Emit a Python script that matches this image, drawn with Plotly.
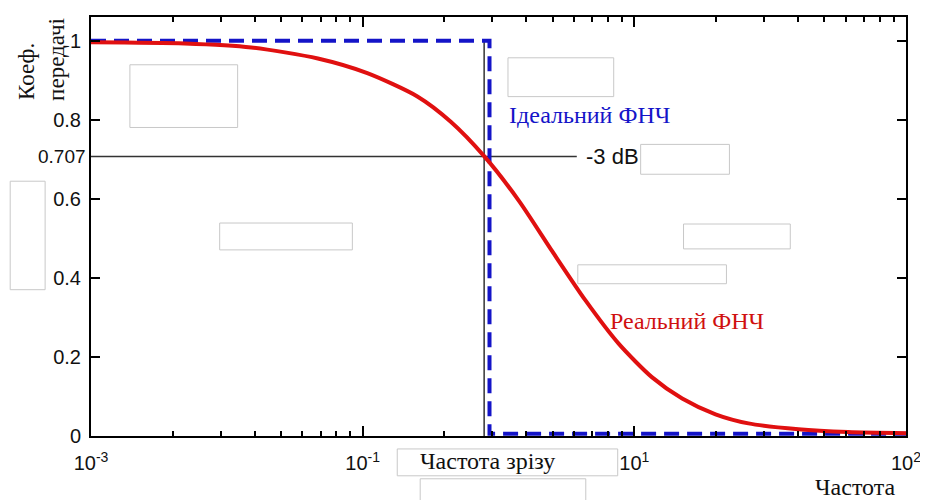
import plotly.graph_objects as go

# ---- data ----
real_freq = [0.1, 0.221, 0.389, 0.684, 1.04, 1.59, 2.11, 2.80, 3.76, 4.99,
             6.61, 8.77, 11.6, 15.0, 19.9, 26.3, 40.2, 61.2, 100.0]
real_gain = [0.996, 0.993, 0.983, 0.955, 0.918, 0.859, 0.795, 0.708, 0.595, 0.467,
             0.343, 0.233, 0.149, 0.095, 0.055, 0.032, 0.017, 0.010, 0.007]

ideal_freq = [0.1, 2.93, 2.93, 100.0]
ideal_gain = [1.0, 1.0, 0.006, 0.006]

cutoff_freq = 2.80
level_3db = 0.707
level_line_end = 6.14

x_tickvals = [0.1, 1, 10, 100]
x_ticktext = ["10<sup>-3</sup>", "10<sup>-1</sup>", "10<sup>1</sup>", "10<sup>2</sup>"]
x_minor = [k * 10 ** n for n in (-1, 0, 1) for k in range(2, 10)]
y_tickvals = [0, 0.2, 0.4, 0.6, 0.8, 1]
y_ticktext = ["0", "0.2", "0.4", "0.6", "0.8", "1"]

# page offset (body margin) compensation
OFF = 8
PL, PR, PT, PB = 91, 908, 15, 436          # plot area in page pixels
W, H = 928 - OFF, 500 - OFF
L, T = PL - OFF, PT - OFF
R = W - (PR - OFF)
B = H - (PB - OFF)


def px(xp):
    return (xp - PL) / (PR - PL)


def py(yp):
    return (PB - yp) / (PB - PT)


fig = go.Figure()

# reference lines
fig.add_trace(go.Scatter(x=[0.1, level_line_end], y=[level_3db, level_3db], mode="lines",
                         line=dict(color="#333333", width=1.5), hoverinfo="skip", showlegend=False))
fig.add_trace(go.Scatter(x=[cutoff_freq, cutoff_freq], y=[0, 1], mode="lines",
                         line=dict(color="#333333", width=1.5), hoverinfo="skip", showlegend=False))

fig.add_trace(go.Scatter(x=ideal_freq, y=ideal_gain, mode="lines",
                         line=dict(color="#1414c8", width=4, dash="15px,8px"),
                         showlegend=False))
fig.add_trace(go.Scatter(x=real_freq, y=real_gain, mode="lines",
                         line=dict(color="#e01010", width=4, shape="spline", smoothing=0.7),
                         showlegend=False))

serif = "Liberation Serif, Times New Roman, serif"
sans = "Liberation Sans, Arial, sans-serif"

annotations = [
    dict(text="-3 dB", x=px(585), y=level_3db, xref="paper", yref="y", xanchor="left",
         yanchor="middle", showarrow=False, font=dict(family=sans, size=22, color="#111")),
    dict(text="0.707", x=px(88), y=level_3db, xref="paper", yref="y", xanchor="right",
         yanchor="middle", showarrow=False, font=dict(family=sans, size=19, color="#111")),
    dict(text="Ідеальний ФНЧ", x=px(591), y=py(113), xref="paper", yref="paper",
         xanchor="center", yanchor="middle", showarrow=False,
         font=dict(family=serif, size=24, color="#1414c8")),
    dict(text="Реальний ФНЧ", x=px(688), y=py(320), xref="paper", yref="paper",
         xanchor="center", yanchor="middle", showarrow=False,
         font=dict(family=serif, size=24, color="#d01010")),
    dict(text="Частота зрізу", x=px(488), y=py(461), xref="paper", yref="paper",
         xanchor="center", yanchor="middle", showarrow=False,
         font=dict(family=serif, size=24, color="#111")),
    dict(text="Частота", x=px(857), y=py(487), xref="paper", yref="paper",
         xanchor="center", yanchor="middle", showarrow=False,
         font=dict(family=serif, size=24, color="#111")),
    dict(text="Коеф.", x=px(27), y=py(70), xref="paper", yref="paper", textangle=-90,
         xanchor="center", yanchor="middle", showarrow=False,
         font=dict(family=serif, size=23, color="#111")),
    dict(text="передачі", x=px(57), y=py(58), xref="paper", yref="paper", textangle=-90,
         xanchor="center", yanchor="middle", showarrow=False,
         font=dict(family=serif, size=23, color="#111")),
]

boxes = [(130, 63, 238, 126), (509, 56, 615, 95), (642, 143, 731, 173), (10, 180, 45, 289),
         (220, 222, 353, 249), (685, 223, 792, 248), (579, 264, 728, 283),
         (398, 449, 619, 476), (421, 479, 587, 506)]
shapes = []
for x0, y0, x1, y1 in boxes:
    shapes.append(dict(type="rect", xref="paper", yref="paper", x0=px(x0), x1=px(x1),
                       y0=py(y1), y1=py(y0), fillcolor="white",
                       line=dict(color="#c8c8c8", width=1), layer="above"))

fig.update_layout(
    width=W, height=H, margin=dict(l=L, r=R, t=T, b=B, pad=0),
    paper_bgcolor="white", plot_bgcolor="white",
    annotations=annotations, shapes=shapes, showlegend=False,
    font=dict(family=sans, size=20, color="#111"),
)
fig.update_xaxes(type="log", range=[-1, 2], tickmode="array", tickvals=x_tickvals,
                 ticktext=x_ticktext, ticks="inside", ticklen=10, tickwidth=1.5,
                 tickcolor="black", showline=True, linecolor="black", linewidth=2,
                 mirror="ticks", showgrid=False, zeroline=False, ticklabelstandoff=8,
                 minor=dict(tickvals=x_minor, ticks="inside", ticklen=5, tickwidth=1.5,
                            tickcolor="black", showgrid=False),
                 tickfont=dict(family=sans, size=20, color="#111"))
fig.update_yaxes(range=[0, 1.06], tickmode="array", tickvals=y_tickvals, ticktext=y_ticktext,
                 ticks="inside", ticklen=9, tickwidth=1.5, tickcolor="black", showline=True,
                 linecolor="black", linewidth=2, mirror="ticks", showgrid=False,
                 zeroline=False, ticklabelstandoff=4,
                 tickfont=dict(family=sans, size=20, color="#111"))

fig.write_html("out.html")
